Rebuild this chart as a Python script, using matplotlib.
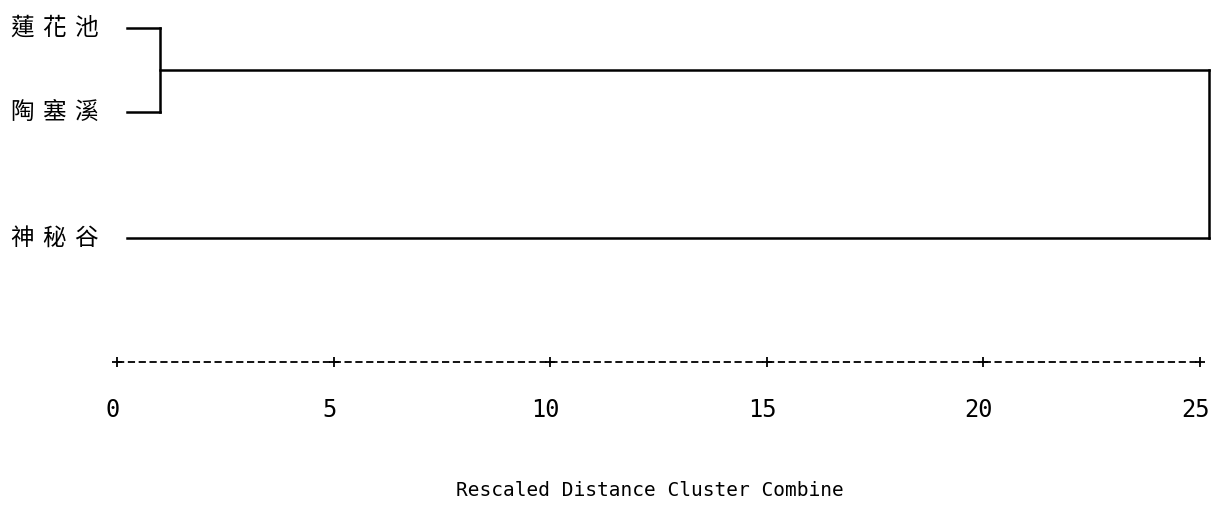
import matplotlib
matplotlib.use("Agg")
import matplotlib.pyplot as plt

# leaves of the dendrogram (top to bottom) and the row each one sits on
labels = ["蓮花池", "陶塞溪", "神秘谷"]
leaf_rows = [0, 2, 5]
# merges: (row a, row b, distance) -- first pair, then that cluster with the last leaf
merge1 = (0, 2, 1.0)
merge2 = (1, 5, 25.2)
ticks = [0, 5, 10, 15, 20, 25]
xlabel = "Rescaled Distance Cluster Combine"

cjk = ["Noto Sans CJK TC", "DejaVu Sans"]
mono = "DejaVu Sans Mono"

fig = plt.figure(figsize=(12.12, 5.11), dpi=100)
ax = fig.add_axes([0, 0, 1, 1])
ax.set_xlim(-2.70, 25.28)
ax.set_ylim(11.5, -0.667)
ax.axis("off")

leaf_start = 0.23
lw = 1.8

# leaf labels, characters spread out like the original print
for lab, r in zip(labels, leaf_rows):
    for k, ch in enumerate(lab):
        ax.text(-2.19 + k * 0.74, r, ch, family=cjk, fontsize=17,
                ha="center", va="center", color="black")

# first merge
a, b, d1 = merge1
ax.plot([leaf_start, d1], [a, a], color="black", lw=lw)
ax.plot([leaf_start, d1], [b, b], color="black", lw=lw)
ax.plot([d1, d1], [a, b], color="black", lw=lw)
mid1 = (a + b) / 2

# second merge
m, c, d2 = merge2
ax.plot([d1, d2], [mid1, mid1], color="black", lw=lw)
ax.plot([leaf_start, d2], [c, c], color="black", lw=lw)
ax.plot([d2, d2], [mid1, c], color="black", lw=lw)

# dashed scale line with + at the ticks
axis_y = 7.95
ax.plot([ticks[0], ticks[-1]], [axis_y, axis_y], color="black", lw=1.3,
        linestyle=(0, (4, 2)))
ax.plot(ticks, [axis_y] * len(ticks), "+", color="black", markersize=7, mew=1.3)
for t in ticks:
    ax.text(t - 0.1, 9.1, str(t), family=mono, fontsize=17, ha="center", va="center")

ax.text(12.3, 11.0, xlabel, family=mono, fontsize=14, ha="center", va="center")

fig.savefig("out.png", dpi=100, facecolor="white")
